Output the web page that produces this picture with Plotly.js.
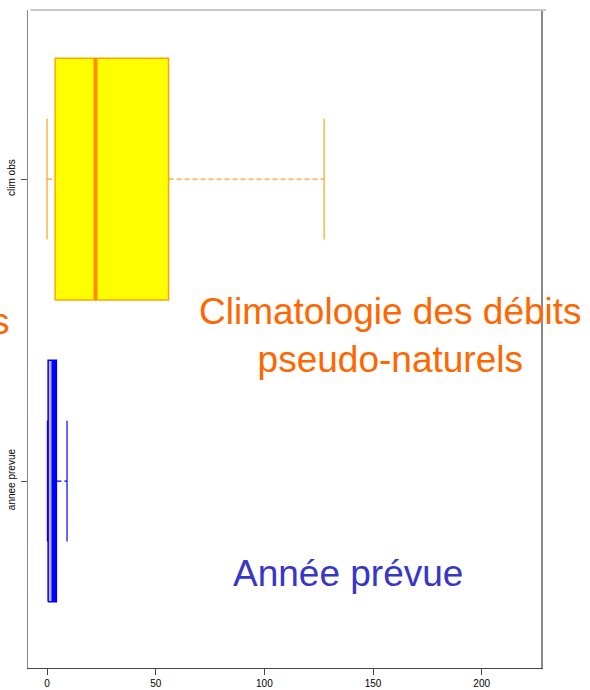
<!DOCTYPE html>
<html>
<head>
<meta charset="utf-8">
<script src="https://cdn.plot.ly/plotly-3.0.1.min.js"></script>
<style>html,body{margin:0;padding:0;background:#fff;}#chart{width:590px;height:690px;}</style>
</head>
<body>
<div id="chart"></div>
<script>
// Data
const categories = ["annee prevue", "clim obs"];
const lowerWhisker = [0.18, 0.0];
const q1 = [0.5, 3.7];
const median = [3.2, 22.3];
const q3 = [4.3, 55.9];
const upperWhisker = [9.2, 127.5];
const xTicks = [0, 50, 100, 150, 200];

// Styles
const boxFill = ["#b4b4ec", "#ffff00"];
const boxLine = ["#0000ff", "#ffa500"];
const medLine = ["#0000ff", "#ff8c00"];
const whiskLine = ["#0000ff", "#ffa020"];
const medWidth = [5, 4];
const boxHalf = 0.4, capHalf = 0.2;

const traces = [];
categories.forEach((c, i) => {
  const p = i + 1;
  // whiskers (dashed)
  traces.push({type: "scatter", mode: "lines", hoverinfo: "skip",
    x: [lowerWhisker[i], q1[i], null, q3[i], upperWhisker[i]],
    y: [p, p, null, p, p],
    line: {color: whiskLine[i], width: 1.2, dash: "5px,3px"}});
  // caps
  traces.push({type: "scatter", mode: "lines", hoverinfo: "skip",
    x: [lowerWhisker[i], lowerWhisker[i], null, upperWhisker[i], upperWhisker[i]],
    y: [p - capHalf, p + capHalf, null, p - capHalf, p + capHalf],
    line: {color: whiskLine[i], width: 1.2}});
  // box
  traces.push({type: "scatter", mode: "lines", hoverinfo: "skip", fill: "toself",
    fillcolor: boxFill[i],
    x: [q1[i], q3[i], q3[i], q1[i], q1[i]],
    y: [p - boxHalf, p - boxHalf, p + boxHalf, p + boxHalf, p - boxHalf],
    line: {color: boxLine[i], width: 1.5}});
  // median
  traces.push({type: "scatter", mode: "lines", hoverinfo: "skip",
    x: [median[i], median[i]],
    y: [p - boxHalf, p + boxHalf],
    line: {color: medLine[i], width: medWidth[i]}});
});

const layout = {
  width: 590, height: 690,
  margin: {l: 28, r: 49, t: 10, b: 22, pad: 0},
  paper_bgcolor: "#ffffff", plot_bgcolor: "#ffffff",
  showlegend: false,
  font: {family: "Liberation Sans, Arial, sans-serif", color: "#000"},
  xaxis: {
    range: [-8.76, 227.3], showgrid: false, zeroline: false,
    showline: true, linecolor: "#444", linewidth: 1, mirror: false,
    tickmode: "array", tickvals: xTicks, ticktext: xTicks.map(String),
    ticks: "outside", ticklen: 6, tickcolor: "#444", tickwidth: 1,
    tickfont: {size: 10, color: "#000"}
  },
  yaxis: {
    range: [0.381, 2.56], showgrid: false, zeroline: false,
    showline: true, linecolor: "#888", linewidth: 1.5, mirror: true,
    tickmode: "array", tickvals: categories.map((c, i) => i + 1), ticktext: categories,
    ticks: "outside", ticklen: 6, tickcolor: "#555", tickwidth: 1,
    ticklabelstandoff: 2,
    tickangle: -90, tickfont: {size: 10, color: "#000"}
  },
  shapes: [
    {type: "line", xref: "paper", yref: "paper", x0: 0.005, x1: 1.0097, y0: 1, y1: 1,
     line: {color: "#c8c8c8", width: 2}}
  ],
  annotations: [
    {text: "Climatologie des débits<br>pseudo-naturels", xref: "paper", yref: "paper",
     x: 0.7057, y: 0.5046, xanchor: "center", yanchor: "middle", showarrow: false,
     font: {size: 37, color: "#ff6600", family: "Liberation Sans, Arial, sans-serif"}},
    {text: "Année prévue", xref: "paper", yref: "paper",
     x: 0.6238, y: 0.1429, xanchor: "center", yanchor: "middle", showarrow: false,
     font: {size: 37, color: "#3636c8", family: "Liberation Sans, Arial, sans-serif"}},
    {text: "s", xref: "paper", yref: "paper",
     x: -0.032, y: 0.527, xanchor: "right", yanchor: "middle", showarrow: false,
     font: {size: 37, color: "#ff6600", family: "Liberation Sans, Arial, sans-serif"}}
  ]
};

Plotly.newPlot("chart", traces, layout, {displayModeBar: false, staticPlot: true});
</script>
</body>
</html>
